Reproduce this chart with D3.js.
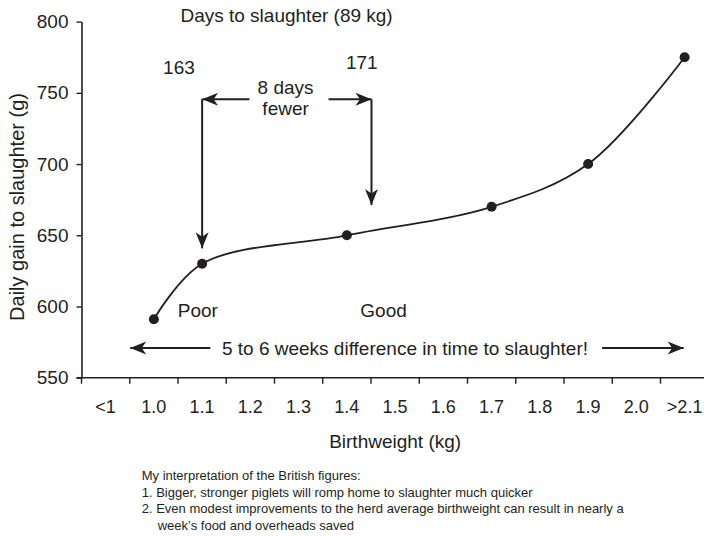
<!DOCTYPE html>
<html>
<head>
<meta charset="utf-8">
<script src="https://cdn.jsdelivr.net/npm/d3@7"></script>
<style>
  html, body { margin: 0; padding: 0; background: #fff; }
  svg { display: block; font-family: Arial, "Liberation Sans", Helvetica, sans-serif; }
  text { fill: #231f20; }
</style>
</head>
<body>
<svg id="chart" width="704" height="536"></svg>
<script>
// ---- data ----
const categories = ["<1", "1.0", "1.1", "1.2", "1.3", "1.4", "1.5", "1.6", "1.7", "1.8", "1.9", "2.0", ">2.1"];
const pointCategories = ["1.0", "1.1", "1.4", "1.7", "1.9", ">2.1"];
const dailyGain = [591, 630, 650, 670, 700, 775];
const yTicks = [550, 600, 650, 700, 750, 800];
const yLabel = "Daily gain to slaughter (g)";
const xLabel = "Birthweight (kg)";
// annotation anchors (birthweight kg, daily gain g)
const annoTexts = [
  { text: "Days to slaughter (89 kg)", bw: 1.275, g: 800, anchor: "middle" },
  { text: "163", bw: 1.052, g: 763, anchor: "middle" },
  { text: "171", bw: 1.431, g: 767, anchor: "middle" },
  { text: "8 days", bw: 1.273, g: 749.4, anchor: "middle" },
  { text: "fewer", bw: 1.273, g: 734.4, anchor: "middle" },
  { text: "Poor", bw: 1.091, g: 592.8, anchor: "middle" },
  { text: "Good", bw: 1.476, g: 592.8, anchor: "middle" },
  { text: "5 to 6 weeks difference in time to slaughter!", bw: 1.141, g: 565.9, anchor: "start" }
];
const arrows = [
  { bw1: 1.198, g1: 745.5, bw2: 1.1, g2: 745.5 },
  { bw1: 1.362, g1: 745.5, bw2: 1.451, g2: 745.5 },
  { bw1: 1.1, g1: 745.5, bw2: 1.1, g2: 640.8 },
  { bw1: 1.451, g1: 745.5, bw2: 1.451, g2: 671.2 },
  { bw1: 1.117, g1: 570.8, bw2: 0.951, g2: 570.8 },
  { bw1: 1.929, g1: 570.8, bw2: 2.098, g2: 570.8 }
];
const footnote = [
  "My interpretation of the British figures:",
  "1. Bigger, stronger piglets will romp home to slaughter much quicker",
  "2. Even modest improvements to the herd average birthweight can result in nearly a",
  "week\u2019s food and overheads saved"
];

// ---- layout ----
const ink = "#231f20";
const plotLeft = 81.5, plotTop = 21.6, plotBottom = 377.7, step = 48.25;
const svg = d3.select("#chart");

const x = d3.scaleBand().domain(categories).range([plotLeft, plotLeft + step * categories.length]).padding(0);
const bw = x.bandwidth();
const xNum = d3.scaleLinear().domain([0.9, 2.1])
  .range([x("<1") + bw / 2, x(">2.1") + bw / 2]);
const y = d3.scaleLinear().domain([550, 800]).range([plotBottom, plotTop]);

// arrow marker
const defs = svg.append("defs");
defs.append("marker")
  .attr("id", "ah").attr("markerUnits", "userSpaceOnUse")
  .attr("viewBox", "-17 -8 18 16").attr("refX", 0).attr("refY", 0)
  .attr("markerWidth", 18).attr("markerHeight", 16).attr("orient", "auto")
  .append("path").attr("d", "M0,0 L-16,-6.5 L-11.5,0 L-16,6.5 Z").attr("fill", ink);

// y axis
const yAxis = svg.append("g").attr("transform", `translate(${plotLeft},0)`)
  .call(d3.axisLeft(y).tickValues(yTicks).tickSize(5).tickSizeOuter(0).tickPadding(8));
yAxis.select(".domain").attr("stroke", ink).attr("stroke-width", 1.6);
yAxis.selectAll(".tick line").attr("stroke", ink).attr("stroke-width", 1.4);
yAxis.selectAll("text").attr("font-size", 19).style("fill", ink);

// x axis: labels centered in bands, ticks at band boundaries
const xAxis = svg.append("g").attr("transform", `translate(0,${plotBottom})`)
  .call(d3.axisBottom(x).tickSize(0).tickSizeOuter(0));
xAxis.select(".domain").remove();
xAxis.selectAll("text").attr("font-size", 18).attr("y", 35).attr("dy", 0).style("fill", ink);
xAxis.append("line")
  .attr("x1", x.range()[0] - 5).attr("x2", x.range()[1])
  .attr("stroke", ink).attr("stroke-width", 1.6);
xAxis.selectAll(".bound").data(categories).join("line")
  .attr("class", "bound")
  .attr("x1", d => x(d)).attr("x2", d => x(d))
  .attr("y1", 0).attr("y2", 6)
  .attr("stroke", ink).attr("stroke-width", 1.4);

// axis titles
svg.append("text").attr("x", (x.range()[0] + x.range()[1]) / 2).attr("y", 448.3)
  .attr("text-anchor", "middle").attr("font-size", 19).text(xLabel);
svg.append("text").attr("transform", `translate(24,207) rotate(-90)`)
  .attr("text-anchor", "middle").attr("font-size", 20).text(yLabel);

// line + points
const pts = pointCategories.map((c, i) => ({ c, v: dailyGain[i] }));
svg.append("path").datum(pts)
  .attr("fill", "none").attr("stroke", ink).attr("stroke-width", 1.8)
  .attr("d", d3.line().x(d => x(d.c) + bw / 2).y(d => y(d.v)).curve(d3.curveCatmullRom.alpha(0.5)));
svg.selectAll(".pt").data(pts).join("circle").attr("class", "pt")
  .attr("cx", d => x(d.c) + bw / 2).attr("cy", d => y(d.v)).attr("r", 5).attr("fill", ink);

// annotations
svg.selectAll(".anno").data(annoTexts).join("text").attr("class", "anno")
  .attr("x", d => xNum(d.bw)).attr("y", d => y(d.g))
  .attr("text-anchor", d => d.anchor).attr("font-size", 19).text(d => d.text);
svg.selectAll(".arr").data(arrows).join("line").attr("class", "arr")
  .attr("x1", d => xNum(d.bw1)).attr("y1", d => y(d.g1))
  .attr("x2", d => xNum(d.bw2)).attr("y2", d => y(d.g2))
  .attr("stroke", ink).attr("stroke-width", 2).attr("marker-end", "url(#ah)");

// footnote
svg.selectAll(".fn").data(footnote).join("text").attr("class", "fn")
  .attr("x", (d, i) => i === 3 ? 157.7 : 141.7)
  .attr("y", (d, i) => 480 + i * 16.7)
  .attr("font-size", 13).text(d => d);
</script>
</body>
</html>
